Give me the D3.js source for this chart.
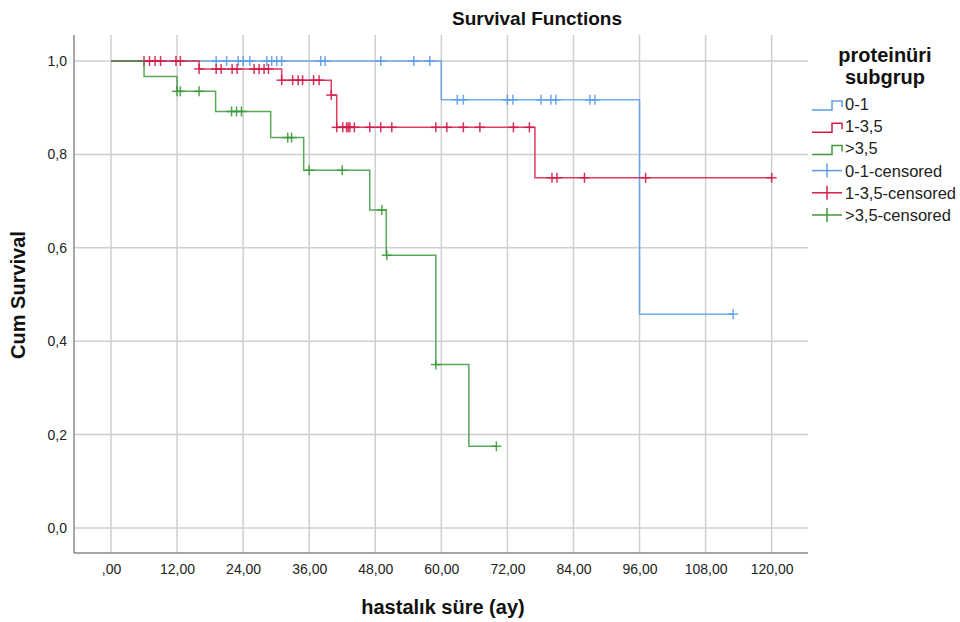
<!DOCTYPE html>
<html>
<head>
<meta charset="utf-8">
<script src="https://cdn.jsdelivr.net/npm/d3@7"></script>
<style>
  html, body { margin: 0; padding: 0; background: #fff; }
  svg { display: block; font-family: "Liberation Sans", Arial, sans-serif; }
</style>
</head>
<body>
<svg id="chart" width="960" height="622"></svg>
<script>
// Kaplan–Meier curves by proteinüri subgroup
const groupNames = ["0-1", "1-3,5", ">3,5"];
const groupColors = ["#5d9ee6", "#d41c48", "#3c9a3c"];

// step start times and survival after each step
const steps01 = [0, 60, 96];
const surv01 = [1, 0.917, 0.458];
const censored01 = [19.1, 21.0, 23.1, 24.0, 25.2, 28.3, 29.2, 30.1, 31.0, 38.1, 38.9, 49.0, 55.0, 57.9,
                    62.9, 64.0, 72.0, 73.0, 78.1, 79.9, 80.8, 87.0, 87.9, 113.0];

const steps13 = [0, 16, 31, 40, 41, 77];
const surv13 = [1, 0.983, 0.959, 0.927, 0.858, 0.750];
const censored13 = [6.0, 7.0, 8.0, 9.0, 11.8, 12.6,
                    16.0, 19.1, 20.0, 22.0, 22.9, 26.0, 26.9, 27.8, 28.6,
                    31.0, 33.0, 34.0, 34.8, 36.8, 37.8, 40.0,
                    41.0, 42.1, 42.8, 43.1, 43.4, 44.2, 47.0, 49.0, 51.0, 59.0, 61.0, 64.0, 67.0, 73.1, 76.0,
                    80.1, 81.0, 86.0, 97.1, 120.0];

const steps35 = [0, 6, 12, 19, 29, 35, 47, 50, 59, 65];
const surv35 = [1, 0.967, 0.935, 0.892, 0.836, 0.766, 0.681, 0.584, 0.350, 0.175];
const censored35 = [12.0, 12.6, 16.0, 21.9, 22.8, 23.7, 32.1, 32.8, 36.0, 42.0, 49.2, 50.1, 59.0, 70.0];

const xTicks = [0, 12, 24, 36, 48, 60, 72, 84, 96, 108, 120];
const xTickLabels = [",00", "12,00", "24,00", "36,00", "48,00", "60,00", "72,00", "84,00", "96,00", "108,00", "120,00"];
const yTicks = [0, 0.2, 0.4, 0.6, 0.8, 1.0];
const yTickLabels = ["0,0", "0,2", "0,4", "0,6", "0,8", "1,0"];

const legendTitle = ["proteinüri", "subgrup"];
const legendLabels = ["0-1", "1-3,5", ">3,5", "0-1-censored", "1-3,5-censored", ">3,5-censored"];

const groups = [
  { steps: steps01, surv: surv01, cens: censored01 },
  { steps: steps13, surv: surv13, cens: censored13 },
  { steps: steps35, surv: surv35, cens: censored35 }
];

const svg = d3.select("#chart");
const plot = { left: 74, right: 808, top: 35, bottom: 553 };

const x = d3.scaleLinear().domain([-6.72, 126.6]).range([plot.left, plot.right]);
const y = d3.scaleLinear().domain([-0.0535, 1.0557]).range([plot.bottom, plot.top]);

// gridlines
const grid = svg.append("g");
grid.selectAll("line.v").data(xTicks).join("line")
  .attr("x1", d => x(d)).attr("x2", d => x(d))
  .attr("y1", plot.top).attr("y2", plot.bottom)
  .attr("stroke", "#cfcfcf").attr("stroke-width", 1.5);
grid.selectAll("line.h").data(yTicks).join("line")
  .attr("x1", plot.left).attr("x2", plot.right)
  .attr("y1", d => y(d)).attr("y2", d => y(d))
  .attr("stroke", "#cfcfcf").attr("stroke-width", 1.5);

// axes
const xAxis = d3.axisBottom(x).tickValues(xTicks).tickSize(0).tickPadding(11)
  .tickFormat((d, i) => xTickLabels[i]);
const yAxis = d3.axisLeft(y).tickValues(yTicks).tickSize(0).tickPadding(7)
  .tickFormat((d, i) => yTickLabels[i]);

const gx = svg.append("g").attr("transform", `translate(0,${plot.bottom})`).call(xAxis);
const gy = svg.append("g").attr("transform", `translate(${plot.left},0)`).call(yAxis);
[gx, gy].forEach(g => {
  g.select(".domain").attr("stroke", "#8a8a8a").attr("stroke-width", 1.5);
  g.selectAll("text").attr("font-size", 14).attr("fill", "#222")
    .attr("font-family", "'Liberation Sans', Arial, sans-serif");
});
gx.select(".domain").attr("d", `M${plot.left},0H${plot.right}`);
gy.select(".domain").attr("d", `M0,${plot.top}V${plot.bottom}`);

// survival at time t from a step function
function survAt(g, t) {
  let s = g.surv[0];
  for (let i = 0; i < g.steps.length; i++) if (g.steps[i] <= t) s = g.surv[i];
  return s;
}

const curves = svg.append("g");
groups.forEach((g, gi) => {
  const endT = d3.max(g.cens.concat(g.steps));
  const pts = g.steps.map((t, i) => [t, g.surv[i]]);
  pts.push([endT, g.surv[g.surv.length - 1]]);
  const line = d3.line().x(d => x(d[0])).y(d => y(d[1])).curve(d3.curveStepAfter);
  curves.append("path").datum(pts)
    .attr("d", line).attr("fill", "none")
    .attr("stroke", groupColors[gi]).attr("stroke-width", 1.5).attr("stroke-opacity", 0.85);

  const marks = curves.append("g").selectAll("g").data(g.cens).join("g")
    .attr("transform", t => `translate(${x(t)},${y(survAt(g, t))})`)
    .attr("stroke", groupColors[gi]).attr("stroke-width", 1.5).attr("stroke-opacity", 0.9);
  marks.append("line").attr("x1", -5).attr("x2", 5).attr("y1", 0).attr("y2", 0);
  marks.append("line").attr("x1", 0).attr("x2", 0).attr("y1", -5).attr("y2", 5);
});

// titles
svg.append("text").attr("x", 537).attr("y", 25).attr("text-anchor", "middle")
  .attr("font-size", 19).attr("font-weight", "bold").attr("fill", "#111")
  .text("Survival Functions");
svg.append("text").attr("x", 443).attr("y", 614).attr("text-anchor", "middle")
  .attr("font-size", 20).attr("font-weight", "bold").attr("fill", "#111")
  .text("hastalık süre (ay)");
svg.append("text").attr("transform", "translate(25,295) rotate(-90)").attr("text-anchor", "middle")
  .attr("font-size", 20).attr("font-weight", "bold").attr("fill", "#111")
  .text("Cum Survival");

// legend
const lg = svg.append("g");
lg.selectAll("text.t").data(legendTitle).join("text")
  .attr("x", 885).attr("y", (d, i) => 62 + i * 22).attr("text-anchor", "middle")
  .attr("font-size", 20).attr("font-weight", "bold").attr("fill", "#111")
  .text(d => d);

const rowY = i => 104 + i * 22.2;
const items = lg.selectAll("g.item").data(legendLabels).join("g")
  .attr("transform", (d, i) => `translate(0,${rowY(i)})`);
items.append("text").attr("x", 845).attr("y", 6)
  .attr("font-size", 16.5).attr("fill", "#222").text(d => d);
items.each(function (d, i) {
  const it = d3.select(this);
  const c = groupColors[i % 3];
  if (i < 3) {
    it.append("path").attr("d", "M812,6H832V-3H842V3")
      .attr("fill", "none").attr("stroke", c).attr("stroke-width", 1.5);
  } else {
    it.append("line").attr("x1", 812).attr("x2", 842).attr("y1", 0).attr("y2", 0)
      .attr("stroke", c).attr("stroke-width", 1.5);
    it.append("line").attr("x1", 827).attr("x2", 827).attr("y1", -7).attr("y2", 7)
      .attr("stroke", c).attr("stroke-width", 1.5);
  }
});
</script>
</body>
</html>
